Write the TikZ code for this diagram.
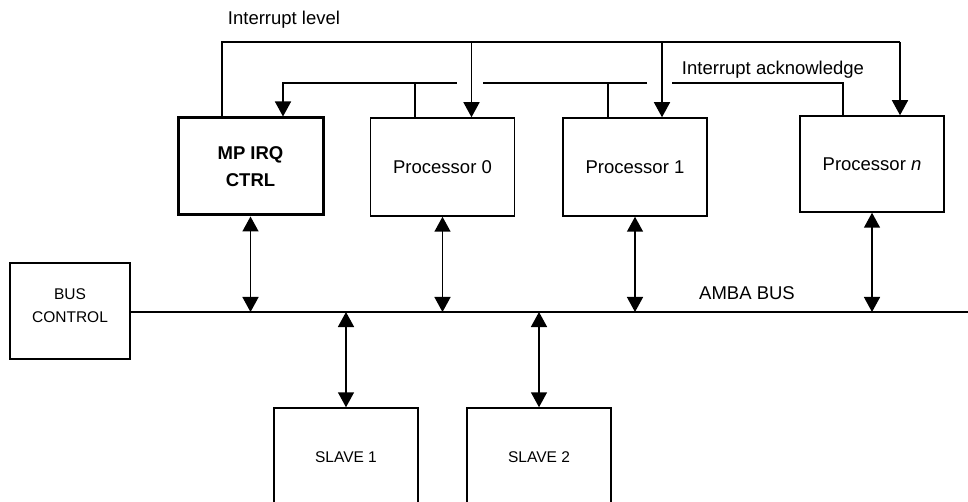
\documentclass[tikz,border=0pt]{standalone}
\usepackage{fontspec}
\setmainfont{Liberation Sans}
\usetikzlibrary{arrows.meta,calc,positioning}

\tikzset{
  blk/.style={draw, line width=1.5pt, minimum width=144pt, minimum height=98pt,
    align=center, inner sep=0pt, font=\fontsize{18.5}{27}\selectfont},
  small/.style={font=\fontsize{15.5}{23}\selectfont},
  lbl/.style={inner sep=0pt, font=\fontsize{18.5}{21}\selectfont},
  wire/.style={line width=1.5pt},
  sig/.style={wire, -{Triangle[length=15pt,width=16pt]}},
  dual/.style={wire, {Triangle[length=15pt,width=16pt]}-{Triangle[length=15pt,width=16pt]}},
}

\begin{document}
\begin{tikzpicture}[x=1pt, y=-1pt]
  \useasboundingbox (0,0) rectangle (968,502);
  \clip (0,0) rectangle (968,502);
  % blocks
  \node[blk, line width=3pt, minimum width=145pt, minimum height=97pt] (irq) at (250.5,166.5) {\textbf{MP IRQ}\\\textbf{CTRL}};
  \node[blk] (p0) at (442.5,167) {Processor 0};
  \node[blk] (p1) at (635,167) {Processor 1};
  \node[blk, minimum height=96pt] (pn) at (872,164) {Processor \textit{n}};
  \node[blk, small, minimum width=120pt, minimum height=96pt] (busctrl) at (70,311) {BUS\\CONTROL\\[-12pt]};
  \node[blk, small] (s1) at (346,457) {SLAVE 1};
  \node[blk, small] (s2) at (539,457) {SLAVE 2};
  % labels
  \node[lbl] (lvltxt) at (284,20) {Interrupt level};
  \node[lbl] (acktxt) at (773,70) {Interrupt acknowledge};
  \node[lbl] (ambatxt) at (747,293) {AMBA BUS};
  % AMBA bus
  \coordinate (busR) at (968,312);
  \draw[wire] (busctrl.east |- busR) -- (busR);
  \foreach \n in {irq,p0,p1,pn}
    \draw[dual] (\n.south) -- (\n.south |- busR);
  \foreach \n in {s1,s2}
    \draw[dual] (\n.north |- busR) -- (\n.north);
  % interrupt level
  \coordinate (lvlL) at (222,42);
  \coordinate (lvlR) at (900,42);
  \coordinate (b0) at ([xshift=29pt]p0.north);
  \coordinate (b1) at ([xshift=27pt]p1.north);
  \draw[wire] (irq.north -| lvlL) -- (lvlL) -- (lvlR);
  \draw[sig] (lvlR) -- (pn.north -| lvlR);
  \draw[sig] (b0 |- lvlL) -- (b0);
  \draw[sig] (b1 |- lvlL) -- (b1);
  % interrupt acknowledge
  \coordinate (ackL) at (283,83);
  \coordinate (ackR) at (843,83);
  \coordinate (a0) at ([xshift=-27.5pt]p0.north);
  \coordinate (a1) at ([xshift=-27pt]p1.north);
  \draw[wire] (pn.north -| ackR) -- (ackR) -- ([xshift=10pt]b1 |- ackR);
  \draw[wire] ([xshift=-15pt]b1 |- ackR) -- ([xshift=11pt]b0 |- ackR);
  \draw[sig] ([xshift=-15pt]b0 |- ackR) -- (ackL) -- (irq.north -| ackL);
  \draw[wire] (a0) -- (a0 |- ackR);
  \draw[wire] (a1) -- (a1 |- ackR);
\end{tikzpicture}
\end{document}
